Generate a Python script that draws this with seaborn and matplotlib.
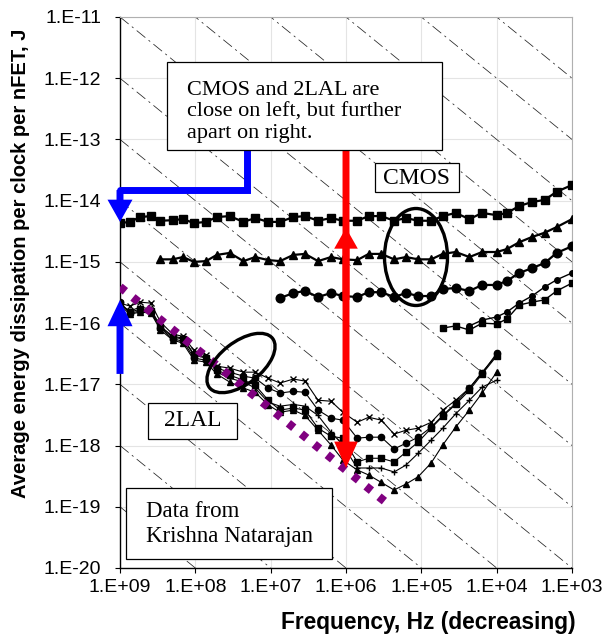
import numpy as np
import matplotlib.pyplot as plt
import seaborn as sns
from matplotlib.patches import Ellipse, Rectangle
from matplotlib.ticker import FixedLocator, FuncFormatter, NullLocator

# clock frequency, Hz (axis runs from high to low)
freq = [1.0e9, 7.4e8, 5.4e8, 3.9e8, 2.9e8, 2.0e8, 1.46e8, 1.04e8, 7.2e7, 5.2e7,
        3.5e7, 2.3e7, 1.6e7, 1.08e7, 7.5e6, 5.0e6, 3.5e6, 2.35e6, 1.58e6, 1.1e6,
        7.1e5, 5.0e5, 3.4e5, 2.3e5, 1.6e5, 1.1e5, 7.4e4, 5.2e4, 3.5e4, 2.3e4,
        1.56e4, 1.0e4, 7.3e3, 5.0e3, 3.4e3, 2.3e3, 1.6e3, 1.0e3]

# CMOS curves, J per clock
cmos_sq = [4.3e-15, 4.5e-15, 5.4e-15, 5.6e-15, 4.7e-15, 4.8e-15, 5.0e-15, 4.3e-15, 4.5e-15, 5.4e-15,
           5.6e-15, 4.5e-15, 5.2e-15, 4.5e-15, 4.5e-15, 5.4e-15, 5.6e-15, 4.7e-15, 5.2e-15, 4.7e-15,
           4.7e-15, 5.6e-15, 5.6e-15, 4.7e-15, 5.2e-15, 4.7e-15, 4.7e-15, 5.6e-15, 6.3e-15, 5.0e-15,
           6.3e-15, 5.8e-15, 6.3e-15, 8.2e-15, 9.5e-15, 1.03e-14, 1.4e-14, 1.8e-14]
cmos_tri = [1.1e-15, 1.1e-15, 1.2e-15, 1.0e-15, 1.03e-15, 1.3e-15, 1.4e-15, 1.03e-15, 1.2e-15, 1.07e-15,
            1.03e-15, 1.3e-15, 1.35e-15, 1.03e-15, 1.2e-15, 1.1e-15, 1.07e-15, 1.35e-15, 1.35e-15, 1.1e-15,
            1.2e-15, 1.1e-15, 1.1e-15, 1.35e-15, 1.45e-15, 1.2e-15, 1.45e-15, 1.45e-15, 1.62e-15, 2.1e-15,
            2.55e-15, 3.0e-15, 3.7e-15, 5.0e-15]
cmos_circ = [2.57e-16, 3.1e-16, 3.35e-16, 2.67e-16, 3.1e-16, 2.77e-16, 2.67e-16, 3.2e-16, 3.2e-16, 2.67e-16,
             3.1e-16, 2.77e-16, 2.77e-16, 3.6e-16, 3.75e-16, 3.35e-16, 4.2e-16, 4.2e-16, 4.9e-16, 6.6e-16,
             7.9e-16, 9.6e-16, 1.4e-15, 1.8e-15]
cmos_low1 = [8.3e-17, 9.0e-17, 7.7e-17, 1.0e-16, 9.7e-17, 1.17e-16, 1.98e-16, 2.2e-16, 2.4e-16, 3.35e-16, 4.5e-16]
cmos_low2 = [9.0e-17, 1.12e-16, 1.26e-16, 1.52e-16, 2.13e-16, 2.77e-16, 3.9e-16, 5.1e-16, 6.6e-16]

# 2LAL curves, J per clock (1 GHz .. 10 kHz)
lal_a = [2.12e-16, 1.9e-16, 2.2e-16, 2.12e-16, 1.04e-16, 6.6e-17, 6.1e-17, 3.6e-17, 3.0e-17, 1.98e-17,
         1.84e-17, 1.58e-17, 1.58e-17, 1.26e-17, 1.05e-17, 1.22e-17, 1.13e-17, 5.5e-18, 5.3e-18, 3.5e-18,
         2.4e-18, 2.9e-18, 2.6e-18, 1.54e-18, 1.78e-18, 1.92e-18, 2.4e-18, 3.8e-18, 5.5e-18, 8.7e-18,
         1.58e-17, 3.0e-17]
lal_b = [2.2e-16, 1.46e-16, 1.57e-16, 1.51e-16, 8.3e-17, 5.5e-17, 5.1e-17, 2.68e-17, 2.48e-17, 1.84e-17,
         1.58e-17, 1.36e-17, 1.26e-17, 8.7e-18, 7.2e-18, 7.7e-18, 7.4e-18, 3.8e-18, 2.8e-18, 2.6e-18,
         1.32e-18, 1.37e-18, 1.37e-18, 8.8e-19, 1.09e-18, 1.37e-18, 2.0e-18, 3.1e-18, 4.9e-18, 8.7e-18,
         1.52e-17, 3.2e-17]
lal_c = [2.04e-16, 1.51e-16, 1.69e-16, 1.57e-16, 8.6e-17, 5.9e-17, 5.5e-17, 3.0e-17, 2.68e-17, 1.7e-17,
         1.41e-17, 1.17e-17, 9.7e-18, 5.5e-18, 3.8e-18, 4.1e-18, 3.8e-18, 1.92e-18, 1.42e-18, 1.32e-18,
         5.4e-19, 6.2e-19, 6.2e-19, 5.4e-19, 7.8e-19, 1.14e-18, 1.92e-18, 3.0e-18, 4.7e-18, 8.0e-18,
         1.47e-17, 2.9e-17]
lal_d = [2.04e-16, 1.57e-16, 1.83e-16, 1.69e-16, 8.9e-17, 6.1e-17, 5.7e-17, 3.1e-17, 2.78e-17, 1.58e-17,
         1.26e-17, 1.09e-17, 8.7e-18, 5.1e-18, 4.4e-18, 4.7e-18, 4.4e-18, 3.1e-18, 1.65e-18, 1.02e-18,
         4.3e-19, 4.3e-19, 4.3e-19, 3.7e-19, 4.8e-19, 7.5e-19, 1.23e-18, 1.92e-18, 3.3e-18, 5.5e-18,
         9.0e-18, 1.17e-17]
lal_e = [1.97e-16, 1.40e-16, 1.51e-16, 1.46e-16, 7.7e-17, 5.3e-17, 4.7e-17, 2.48e-17, 2.3e-17, 1.47e-17,
         1.09e-17, 8.7e-18, 7.4e-18, 4.6e-18, 3.5e-18, 3.8e-18, 3.1e-18, 1.78e-18, 1.02e-18, 5.8e-19,
         4.0e-19, 3.3e-19, 2.5e-19, 1.88e-19, 2.35e-19, 3.1e-19, 5.2e-19, 1.02e-18, 2.0e-18, 3.8e-18,
         7.2e-18, 1.58e-17]

# adiabatic limit (purple dotted), E proportional to f
purple_f = [1.0e9, 3.0e5]
purple_e = [3.9e-16, 1.2e-19]

# background guide lines E = c * f
guide_coeffs = [10.0 ** k for k in range(-29, -13)]

x_ticks = [1e9, 1e8, 1e7, 1e6, 1e5, 1e4, 1e3]
y_ticks = [1e-20, 1e-19, 1e-18, 1e-17, 1e-16, 1e-15, 1e-14, 1e-13, 1e-12, 1e-11]

sns.set_theme(style="whitegrid")
plt.rcParams['font.family'] = ['Liberation Sans', 'DejaVu Sans']
plt.rcParams['lines.scale_dashes'] = False
serif = ['Liberation Serif', 'DejaVu Serif']

W, H = 607, 636
fig = plt.figure(figsize=(W / 100, H / 100), dpi=100)
fig.patch.set_facecolor('white')
ax = fig.add_axes([120 / W, 1 - 568 / H, 452 / W, 551 / H])
ax.set_xscale('log')
ax.set_yscale('log')
ax.set_facecolor('white')

fl = np.array([1e9, 1e3])
for c in guide_coeffs:
    ax.plot(fl, c * fl, color='#222222', lw=0.55, ls=(0, (8, 3, 1.5, 3)), zorder=1)


def series(f, e, marker, ms, lw):
    sns.lineplot(x=f, y=e, ax=ax, color='black', marker=marker, markersize=ms,
                 linewidth=lw, mec='black', mew=1, estimator=None, sort=False, zorder=3)


series(freq, cmos_sq, 's', 6.2, 1.6)
series(freq[4:], cmos_tri, '^', 6.2, 1.6)
series(freq[14:], cmos_circ, 'o', 6.2, 1.6)
series(freq[27:], cmos_low1, 's', 4, 1.0)
series(freq[29:], cmos_low2, 'o', 4, 1.0)

series(freq[:32], lal_a, 'x', 4, 0.8)
series(freq[:32], lal_b, 'o', 4.5, 0.8)
series(freq[:32], lal_c, 's', 4, 0.8)
series(freq[:32], lal_d, '+', 5, 0.8)
series(freq[:32], lal_e, '^', 4, 0.8)

ax.plot(purple_f, purple_e, color='#800080', lw=6, ls=(0, (5, 7)),
        dash_capstyle='butt', zorder=4)

# arrows
blue = '#0000ff'
red = '#ff0000'
ax.plot([2.06e7, 2.06e7, 1e9], [6.7e-14, 1.49e-14, 1.49e-14], color=blue, lw=5,
        solid_joinstyle='miter', clip_on=False, zorder=6)


def arrow(tail, tip, color, hl, hw):
    ax.annotate('', xy=tip, xytext=tail, annotation_clip=False, zorder=6,
                arrowprops=dict(arrowstyle=f'simple,head_length={hl},head_width={hw},tail_width=0.25',
                                color=color, lw=0, shrinkA=0, shrinkB=0, mutation_scale=20))


arrow((1e9, 1.49e-14), (1e9, 4.5e-15), blue, 0.8, 0.9)
arrow((1e9, 1.48e-17), (1e9, 2.4e-16), blue, 0.95, 0.9)
arrow((1e6, 6.7e-14), (1e6, 4.3e-19), red, 0.95, 0.85)
arrow((1e6, 2.4e-16), (1e6, 3.6e-15), red, 0.75, 0.85)

ax.set_xlim(1e9, 1e3)
ax.set_ylim(1e-20, 1e-11)
ax.xaxis.set_major_locator(FixedLocator(x_ticks))
ax.yaxis.set_major_locator(FixedLocator(y_ticks))
ax.xaxis.set_minor_locator(NullLocator())
ax.yaxis.set_minor_locator(NullLocator())
fmt = FuncFormatter(lambda v, p: f"1.E{int(round(np.log10(v))):+03d}")
ax.xaxis.set_major_formatter(fmt)
ax.yaxis.set_major_formatter(fmt)
ax.tick_params(axis='both', labelsize=14, length=3.5, width=0.8, color='black',
               direction='out', bottom=True, left=True, labelcolor='black')
ax.tick_params(axis='x', pad=4.5)
ax.tick_params(axis='y', pad=10)
ax.grid(True, color='#e4e4e4', lw=0.8)
for side in ['left', 'bottom']:
    ax.spines[side].set_color('black')
    ax.spines[side].set_linewidth(1.0)
for side in ['top', 'right']:
    ax.spines[side].set_color('#b0b0b0')
    ax.spines[side].set_linewidth(0.8)

# ellipses (figure inches)
fig.add_artist(Ellipse((4.16, (H - 257) / 100), 0.63, 0.97, transform=fig.dpi_scale_trans,
                       fill=False, ec='black', lw=2.4, zorder=5))
fig.add_artist(Ellipse((2.41, (H - 363) / 100), 0.80, 0.42, angle=38, transform=fig.dpi_scale_trans,
                       fill=False, ec='black', lw=2.4, zorder=5))


def note(x0, y0, x1, y1, text, tx, ty, ha, size=16):
    fig.add_artist(Rectangle((x0 / 100, (H - y1) / 100), (x1 - x0) / 100, (y1 - y0) / 100,
                             transform=fig.dpi_scale_trans, fc='white', ec='black', lw=0.9, zorder=7))
    fig.text(tx / W, 1 - ty / H, text, ha=ha, va='center', family=serif, fontsize=size,
             color='black', zorder=8)


note(167, 62, 442, 150, "CMOS and 2LAL are\nclose on left, but further\napart on right.", 187, 112, 'left')
note(375, 163, 459, 192, "CMOS", 417, 178, 'center', 17)
note(148, 403, 237, 439, "2LAL", 192.5, 421, 'center', 17)
note(126, 488, 332, 559, "Data from\nKrishna Natarajan", 146, 524, 'left', 16.5)

fig.text(21 / W, 1 - 263 / H, "Average energy dissipation per clock per nFET, J", rotation=90,
         ha='center', va='center', fontsize=14.5, fontweight='bold', color='black')
fig.text(428 / W, 1.5 / H, "Frequency, Hz (decreasing)", ha='center', va='bottom',
         fontsize=16.4, fontweight='bold', color='black')

fig.savefig('out.png', dpi=100)
